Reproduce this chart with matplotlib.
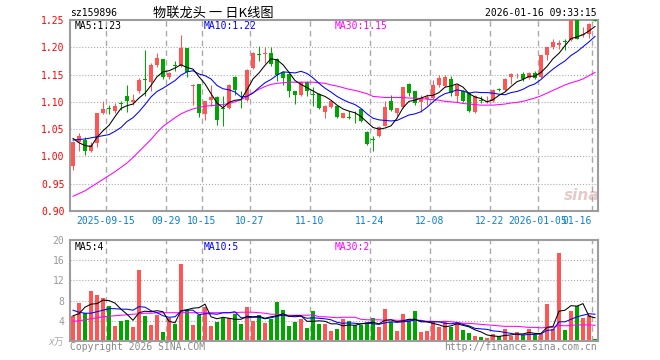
import matplotlib
matplotlib.use("Agg")
import matplotlib.pyplot as plt
import numpy as np

plt.rcParams['font.family'] = ['DejaVu Sans Mono', 'Noto Sans CJK SC']

# daily OHLC, 2025-09-05 .. 2026-01-16 (88 trading days)
opens = [0.983, 1.027, 1.031, 1.010, 1.024, 1.079, 1.088, 1.084, 1.098, 1.111,
         1.100, 1.120, 1.142, 1.136, 1.168, 1.179, 1.145, 1.167, 1.166, 1.198,
         1.129, 1.132, 1.077, 1.104, 1.109, 1.089, 1.088, 1.146, 1.113, 1.103,
         1.162, 1.188, 1.187, 1.190, 1.179, 1.155, 1.151, 1.119, 1.112, 1.137,
         1.115, 1.115, 1.082, 1.091, 1.093, 1.071, 1.072, 1.078, 1.086, 1.045,
         1.032, 1.037, 1.056, 1.101, 1.079, 1.090, 1.133, 1.119, 1.099, 1.105,
         1.107, 1.130, 1.129, 1.142, 1.110, 1.120, 1.117, 1.081, 1.104, 1.100,
         1.101, 1.123, 1.121, 1.146, 1.147, 1.151, 1.144, 1.153, 1.145, 1.186,
         1.200, 1.205, 1.211, 1.213, 1.255, 1.223, 1.225, 1.255]
highs = [1.028, 1.043, 1.035, 1.026, 1.079, 1.101, 1.095, 1.097, 1.101, 1.131,
         1.115, 1.144, 1.195, 1.171, 1.189, 1.179, 1.154, 1.175, 1.223, 1.199,
         1.132, 1.133, 1.102, 1.131, 1.110, 1.111, 1.132, 1.148, 1.120, 1.160,
         1.191, 1.202, 1.200, 1.200, 1.180, 1.156, 1.152, 1.120, 1.138, 1.138,
         1.127, 1.116, 1.094, 1.102, 1.094, 1.080, 1.084, 1.084, 1.087, 1.046,
         1.038, 1.055, 1.101, 1.112, 1.089, 1.128, 1.134, 1.120, 1.113, 1.114,
         1.140, 1.150, 1.149, 1.147, 1.132, 1.121, 1.118, 1.112, 1.111, 1.111,
         1.124, 1.126, 1.143, 1.152, 1.152, 1.154, 1.155, 1.157, 1.186, 1.201,
         1.215, 1.213, 1.215, 1.260, 1.258, 1.238, 1.244, 1.258]
lows = [0.975, 1.010, 1.003, 1.009, 1.018, 1.078, 1.078, 1.080, 1.085, 1.082,
        1.095, 1.117, 1.111, 1.119, 1.163, 1.141, 1.141, 1.156, 1.163, 1.145,
        1.094, 1.073, 1.067, 1.093, 1.058, 1.056, 1.087, 1.112, 1.088, 1.101,
        1.160, 1.175, 1.172, 1.166, 1.139, 1.130, 1.109, 1.096, 1.111, 1.111,
        1.093, 1.087, 1.070, 1.089, 1.071, 1.070, 1.068, 1.062, 1.064, 1.021,
        1.010, 1.036, 1.055, 1.083, 1.074, 1.089, 1.111, 1.094, 1.081, 1.094,
        1.105, 1.127, 1.127, 1.111, 1.100, 1.099, 1.082, 1.079, 1.098, 1.098,
        1.099, 1.119, 1.120, 1.133, 1.143, 1.138, 1.142, 1.142, 1.143, 1.177,
        1.196, 1.197, 1.195, 1.212, 1.215, 1.218, 1.217, 1.248]
closes = [1.027, 1.037, 1.010, 1.021, 1.079, 1.087, 1.086, 1.093, 1.096, 1.101,
          1.103, 1.140, 1.140, 1.168, 1.180, 1.145, 1.152, 1.165, 1.198, 1.154,
          1.131, 1.080, 1.102, 1.108, 1.067, 1.087, 1.131, 1.121, 1.112, 1.158,
          1.190, 1.186, 1.190, 1.169, 1.150, 1.143, 1.119, 1.113, 1.137, 1.119,
          1.113, 1.089, 1.093, 1.101, 1.073, 1.079, 1.071, 1.077, 1.065, 1.022,
          1.031, 1.054, 1.090, 1.085, 1.089, 1.127, 1.116, 1.097, 1.107, 1.108,
          1.131, 1.143, 1.145, 1.116, 1.131, 1.101, 1.084, 1.111, 1.102, 1.102,
          1.122, 1.122, 1.142, 1.151, 1.148, 1.141, 1.153, 1.144, 1.186, 1.201,
          1.209, 1.207, 1.210, 1.255, 1.216, 1.225, 1.243, 1.249]
volumes = [5.0, 7.5, 5.5, 9.9, 9.1, 8.5, 6.9, 3.0, 4.0, 4.1,
           2.7, 14.0, 4.9, 3.1, 5.1, 1.8, 4.5, 3.4, 15.2, 6.1,
           3.1, 5.2, 6.8, 2.9, 3.8, 4.6, 4.6, 5.4, 3.3, 6.7,
           4.0, 5.2, 3.5, 4.4, 7.7, 6.1, 2.9, 3.8, 4.3, 2.6,
           5.9, 3.3, 3.3, 1.9, 2.4, 4.3, 4.0, 3.1, 3.2, 3.6,
           4.5, 2.7, 6.3, 3.8, 1.9, 5.3, 4.4, 5.9, 1.7, 1.9,
           3.8, 2.7, 4.0, 2.7, 3.8, 2.1, 1.5, 1.0, 0.7, 0.5,
           1.3, 0.9, 2.3, 1.0, 1.7, 1.2, 2.3, 1.2, 1.3, 7.3,
           2.3, 17.4, 2.1, 5.9, 7.0, 4.5, 5.2, 0.3]

# moving average lines as drawn on the chart
ma5 = [1.033, 1.025, 1.020, 1.018, 1.035, 1.047, 1.057, 1.073, 1.088, 1.093,
       1.096, 1.107, 1.116, 1.130, 1.146, 1.155, 1.157, 1.162, 1.168, 1.163,
       1.160, 1.146, 1.133, 1.115, 1.098, 1.089, 1.099, 1.103, 1.104, 1.122,
       1.142, 1.153, 1.167, 1.179, 1.177, 1.168, 1.154, 1.139, 1.132, 1.126,
       1.120, 1.114, 1.110, 1.103, 1.094, 1.087, 1.083, 1.080, 1.073, 1.063,
       1.053, 1.050, 1.052, 1.056, 1.070, 1.089, 1.101, 1.103, 1.107, 1.111,
       1.112, 1.117, 1.127, 1.129, 1.133, 1.127, 1.115, 1.109, 1.106, 1.100,
       1.104, 1.112, 1.118, 1.128, 1.137, 1.141, 1.147, 1.147, 1.154, 1.165,
       1.179, 1.189, 1.203, 1.216, 1.219, 1.223, 1.230, 1.238]
ma10 = [1.030, 1.031, 1.032, 1.034, 1.036, 1.038, 1.040, 1.046, 1.053, 1.064,
        1.071, 1.082, 1.095, 1.109, 1.119, 1.125, 1.132, 1.139, 1.149, 1.155,
        1.157, 1.151, 1.148, 1.142, 1.130, 1.124, 1.122, 1.118, 1.109, 1.110,
        1.116, 1.126, 1.135, 1.141, 1.149, 1.155, 1.154, 1.153, 1.156, 1.152,
        1.144, 1.134, 1.125, 1.118, 1.110, 1.104, 1.099, 1.095, 1.088, 1.078,
        1.070, 1.067, 1.066, 1.065, 1.066, 1.071, 1.076, 1.078, 1.082, 1.090,
        1.100, 1.109, 1.115, 1.118, 1.122, 1.120, 1.116, 1.118, 1.117, 1.117,
        1.116, 1.114, 1.113, 1.117, 1.119, 1.123, 1.129, 1.133, 1.141, 1.151,
        1.160, 1.168, 1.175, 1.185, 1.192, 1.201, 1.210, 1.220]
ma30 = [0.927, 0.932, 0.937, 0.944, 0.951, 0.958, 0.965, 0.972, 0.980, 0.988,
        0.998, 1.009, 1.020, 1.031, 1.044, 1.055, 1.063, 1.071, 1.078, 1.083,
        1.087, 1.090, 1.092, 1.093, 1.094, 1.095, 1.097, 1.100, 1.104, 1.110,
        1.117, 1.123, 1.128, 1.132, 1.134, 1.135, 1.136, 1.136, 1.136, 1.136,
        1.136, 1.135, 1.134, 1.131, 1.129, 1.126, 1.123, 1.121, 1.118, 1.115,
        1.110, 1.109, 1.108, 1.108, 1.108, 1.108, 1.107, 1.107, 1.106, 1.105,
        1.104, 1.103, 1.101, 1.100, 1.099, 1.097, 1.096, 1.095, 1.094, 1.094,
        1.094, 1.095, 1.096, 1.098, 1.099, 1.101, 1.104, 1.107, 1.111, 1.116,
        1.121, 1.126, 1.131, 1.135, 1.138, 1.142, 1.148, 1.154]
vol_ma5 = [5.0, 5.4, 6.7, 7.3, 7.4, 8.1, 8.0, 7.5, 6.3, 5.3,
           4.1, 5.6, 5.9, 5.8, 6.0, 5.8, 3.9, 3.6, 6.0, 6.2,
           6.5, 6.6, 7.3, 4.8, 4.4, 4.7, 4.5, 4.3, 4.3, 4.9,
           4.8, 4.9, 4.5, 4.8, 5.0, 5.4, 4.9, 5.0, 5.0, 3.9,
           3.9, 4.0, 3.9, 3.4, 3.4, 3.0, 3.2, 3.1, 3.4, 3.6,
           3.7, 3.4, 4.1, 4.2, 3.8, 4.0, 4.3, 4.3, 3.8, 3.8,
           3.5, 3.2, 2.8, 3.0, 3.4, 3.1, 2.8, 2.2, 1.8, 1.2,
           1.0, 0.9, 1.1, 1.2, 1.4, 1.4, 1.7, 1.5, 1.5, 2.7,
           2.9, 5.9, 6.1, 7.0, 6.9, 7.4, 4.9, 4.6]
vol_ma10 = [6.1, 5.7, 5.5, 5.5, 5.8, 6.1, 6.4, 6.4, 6.3, 6.3,
            6.1, 6.8, 6.7, 6.0, 5.6, 5.0, 4.7, 4.8, 5.9, 6.1,
            6.1, 5.2, 5.4, 5.4, 5.3, 5.6, 5.6, 5.8, 4.6, 4.6,
            4.7, 4.7, 4.4, 4.6, 4.9, 5.1, 4.9, 4.8, 4.9, 4.5,
            4.6, 4.5, 4.4, 4.2, 3.7, 3.5, 3.6, 3.5, 3.4, 3.5,
            3.4, 3.3, 3.6, 3.8, 3.7, 3.8, 3.9, 4.2, 4.0, 3.8,
            3.8, 3.8, 3.5, 3.4, 3.6, 3.3, 3.0, 2.5, 2.4, 2.3,
            2.0, 1.9, 1.7, 1.5, 1.3, 1.2, 1.3, 1.3, 1.4, 2.1,
            2.2, 3.8, 3.8, 4.3, 4.8, 5.1, 5.4, 5.3]
vol_ma30 = [3.9, 4.0, 4.2, 4.4, 4.6, 4.8, 4.9, 5.0, 5.1, 5.2,
            5.3, 5.4, 5.5, 5.5, 5.6, 5.6, 5.6, 5.6, 5.6, 5.6,
            5.6, 5.6, 5.6, 5.6, 5.6, 5.6, 5.6, 5.6, 5.7, 5.7,
            5.7, 5.6, 5.5, 5.3, 5.3, 5.2, 5.1, 5.1, 5.1, 5.1,
            5.2, 4.8, 4.8, 4.7, 4.6, 4.7, 4.7, 4.7, 4.3, 4.2,
            4.2, 4.2, 4.1, 4.2, 4.1, 4.1, 4.1, 4.1, 4.1, 3.9,
            3.9, 3.8, 3.9, 3.8, 3.7, 3.5, 3.5, 3.4, 3.3, 3.2,
            3.1, 3.0, 2.9, 2.9, 2.9, 2.8, 2.7, 2.7, 2.6, 2.7,
            2.7, 3.1, 3.0, 3.1, 3.2, 3.2, 3.2, 3.1]

tick_days = [6, 16, 22, 30, 40, 50, 60, 70, 78, 87]
tick_labels = ['2025-09-15', '09-29', '10-15', '10-27', '11-10', '11-24',
               '12-08', '12-22', '2026-01-05', '01-16']
price_ticks = [0.90, 0.95, 1.00, 1.05, 1.10, 1.15, 1.20, 1.25]
vol_ticks = [4, 8, 12, 16, 20]

RED = '#ff5555'
GREEN = '#00a600'
GRID = '#aaaaaa'
FRAME = '#9c9c9c'
DATE_BLUE = '#0a7fd0'
LW = 0.75

W, H = 660, 360
fig = plt.figure(figsize=(W / 100, H / 100), dpi=100)


def fx(px):
    return px / W


def fy(py):
    return 1 - py / H


ax = fig.add_axes([fx(70), fy(211), 528 / W, 191 / H])
axv = fig.add_axes([fx(70), fy(341), 528 / W, 101 / H])

n = len(closes)
x = np.arange(n) + 0.5
o = np.array(opens)
c = np.array(closes)
colors = np.where(c >= o, RED, GREEN)

for a in (ax, axv):
    a.set_xlim(0, n)
    for d in tick_days:
        a.axvline(d, color=GRID, lw=1, ls=(0, (4, 3)), zorder=0)
    for s in a.spines.values():
        s.set_color(FRAME)
        s.set_linewidth(1.5)
    a.set_xticks([])
    a.tick_params(axis='y', length=0, pad=4, labelsize=7)

# price panel
ax.set_ylim(0.90, 1.25)
for p in price_ticks[1:-1]:
    ax.axhline(p, color=GRID, lw=0.8, ls=':', zorder=0)
ax.set_yticks(price_ticks)
ax.set_yticklabels([f'{p:.2f}' for p in price_ticks], color='#ff0000')

ax.vlines(x, lows, highs, colors=colors, lw=LW, zorder=2)
body = np.maximum(np.abs(c - o), 0.0012)
ax.bar(x, body, bottom=np.minimum(o, c), width=0.8, color=colors,
       linewidth=0, zorder=3)
ax.plot(x, ma30, color='#ff00ff', lw=LW, zorder=4)
ax.plot(x, ma10, color='#0000ff', lw=LW, zorder=4)
ax.plot(x, ma5, color='black', lw=LW, zorder=5)

for d, lab in zip(tick_days, tick_labels):
    ha = 'right' if d == tick_days[-1] else 'center'
    ax.text(d, -0.052, lab, transform=ax.get_xaxis_transform(), ha=ha,
            va='center', color=DATE_BLUE, fontsize=7, clip_on=False)

# volume panel
axv.set_ylim(0, 20)
for v in vol_ticks[:-1]:
    axv.axhline(v, color=GRID, lw=0.8, ls=':', zorder=0)
axv.set_yticks(vol_ticks)
axv.set_yticklabels([str(v) for v in vol_ticks], color='#999999')
axv.bar(x, volumes, width=0.8, color=colors, linewidth=0, zorder=2)
axv.plot(x, vol_ma30, color='#ff00ff', lw=LW, zorder=3)
axv.plot(x, vol_ma10, color='#0000ff', lw=LW, zorder=3)
axv.plot(x, vol_ma5, color='black', lw=LW, zorder=4)

# header and labels
fig.text(fx(70), fy(13), 'sz159896', fontsize=7, va='center', color='black')
fig.text(fx(213), fy(13), '物联龙头 一 日K线图', fontsize=9.5, ha='center',
         va='center', family=['Noto Sans CJK SC', 'DejaVu Sans'])
fig.text(fx(597), fy(13), '2026-01-16 09:33:15', fontsize=7, ha='right',
         va='center')

fig.text(fx(75), fy(26), 'MA5:1.23', fontsize=7, va='center', color='black')
fig.text(fx(204), fy(26), 'MA10:1.22', fontsize=7, va='center', color='#0000ff')
fig.text(fx(335), fy(26), 'MA30:1.15', fontsize=7, va='center', color='#ff00ff')
fig.text(fx(75), fy(247), 'MA5:4', fontsize=7, va='center', color='black')
fig.text(fx(204), fy(247), 'MA10:5', fontsize=7, va='center', color='#0000ff')
fig.text(fx(335), fy(247), 'MA30:2', fontsize=7, va='center', color='#ff00ff')

fig.text(fx(56), fy(342), 'x万', fontsize=7, ha='center', va='center',
         color='#aaaaaa', style='italic')
fig.text(fx(70), fy(347), 'Copyright 2026 SINA.COM', fontsize=7, va='center',
         color='#888888')
fig.text(fx(597), fy(347), 'http://finance.sina.com.cn', fontsize=7,
         ha='right', va='center', color='#888888')
fig.text(fx(582), fy(196), 'sina', fontsize=11, ha='center', va='center',
         color='#cc8888', alpha=0.45, style='italic', weight='bold',
         family='DejaVu Sans')

fig.savefig('out.png', dpi=100)
